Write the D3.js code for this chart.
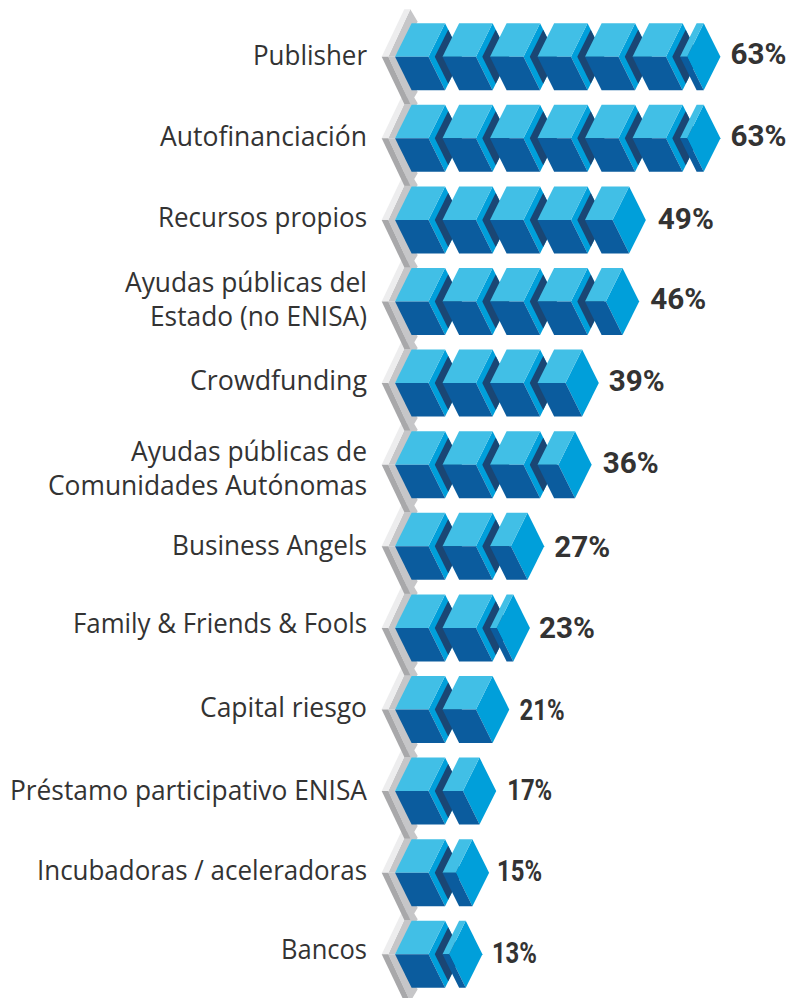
<!DOCTYPE html>
<html><head><meta charset="utf-8">
<script src="https://cdn.jsdelivr.net/npm/d3@7/dist/d3.min.js"></script>
<style>html,body{margin:0;padding:0;background:#fff}svg{display:block}</style>
</head><body><div id="chart"></div>
<script>
const categories = [
  ["Publisher"],
  ["Autofinanciación"],
  ["Recursos propios"],
  ["Ayudas públicas del","Estado (no ENISA)"],
  ["Crowdfunding"],
  ["Ayudas públicas de","Comunidades Autónomas"],
  ["Business Angels"],
  ["Family & Friends & Fools"],
  ["Capital riesgo"],
  ["Préstamo participativo ENISA"],
  ["Incubadoras / aceleradoras"],
  ["Bancos"]
];
const values = [63,63,49,46,39,36,27,23,21,17,15,13];
// Drawn length of each bar (front edge, 10 units = one block)
const drawnLengths = [61.5,61.5,45.8,44.4,35.9,34.4,24.4,21.4,17.1,14.3,12.8,11.4];

const W=792,H=998;
const x=d3.scaleLinear().domain([0,10]).range([395,442.5]);
const y=d3.scaleLinear().domain([0,11]).range([56.7,954.3]);
const blockUnits=7.05;          // width of a full front face
const hw=16.6, hh=33.5, side=33.3;
const C={light:"#41bfe6",side:"#009fda",dark:"#0b5c9e",navy:"#1a4674",g1:"#ededee",g2:"#c6c6c8",g3:"#a8a8aa"};
// small layout nudges of the text, row by row
const labelShift=[0,-1,-1,-1,-1.5,5,0,-3,-1,1,-1,-4];
const labelWidths=[[114],[207],[209],[242,217],[177],[236,319],[195],[294],[167],[357],[330],[86]];
const pctShift=[-2.5,-2.5,-1.3,-2.7,-2,-1.7,0.7,0,0,-1.5,-1.6,-1.8];
const pctGap=[10,10,12,11,10,11,10,9,10,11,8,9.5];
const glyphW=ch=>ch==="1"?6.5:ch==="%"?21:17.5;

const svg=d3.select("#chart").append("svg").attr("width",W).attr("height",H).attr("viewBox",`0 0 ${W} ${H}`);
const poly=(g,pts,fill)=>g.append("polygon").attr("points",pts.map(p=>p.join(",")).join(" ")).attr("fill",fill);

// grey rails: lower rows first so each row overlaps the one beneath
const rails=svg.append("g");
d3.range(values.length).reverse().forEach(i=>{
  const c=y(i),g=rails.append("g");
  const a=x(0)-13.3,b=x(0)-6.7,d=x(0);
  poly(g,[[b,c],[b+22,c-47.4],[b+29.4,c-35],[d+6,c-10],[d,c]],C.g2);
  poly(g,[[a,c],[a+22.6,c-47.4],[b+22,c-47.4],[b,c]],C.g1);
  poly(g,[[b,c],[d,c],[b+29.4,c+35],[b+22,c+47.4]],C.g2);
  poly(g,[[a,c],[b,c],[b+22,c+47.4],[a+22.6,c+47.4]],C.g3);
});

const bars=svg.append("g");
drawnLengths.forEach((len,i)=>{
  const c=y(i),g=bars.append("g");
  const n=Math.floor(len/10);
  d3.range(n+1).forEach(k=>{
    const L=x(k*10);
    const F=k<n?x(k*10+blockUnits):Math.min(x(k*10+blockUnits),x(len));
    poly(g,[[F,c],[F+hw,c-hh],[F+side,c],[F+hw,c+hh]],C.side);
    if(k<n) poly(g,[[F+6.3,c],[F+19.7,c-27],[F+side,c],[F+19.7,c+27]],C.navy);
    poly(g,[[L,c],[L+hw,c-hh],[F+hw,c-hh],[F,c]],C.light);
    poly(g,[[L,c],[L+hw,c+hh],[F+hw,c+hh],[F,c]],C.dark);
  });
});

const labels=svg.append("g").attr("font-family","'Open Sans',sans-serif").attr("font-size",26.4).attr("fill","#333");
categories.forEach((lines,i)=>{
  const c=y(i)+labelShift[i];
  lines.forEach((s,j)=>labels.append("text")
    .attr("x",367-labelWidths[i][j])
    .attr("y",c+8.3+(lines.length===2?(j===0?-16.7:17):0))
    .attr("textLength",labelWidths[i][j]).attr("lengthAdjust","spacingAndGlyphs").text(s));
});

const pct=svg.append("g").attr("font-family","Roboto,sans-serif").attr("font-weight",700).attr("font-size",28.8).attr("fill","#333");
values.forEach((v,i)=>{
  const tip=x(drawnLengths[i])+side, s=v+"%";
  pct.append("text").attr("x",tip+pctGap[i]).attr("y",y(i)+10.25+pctShift[i])
    .attr("textLength",d3.sum(Array.from(s),glyphW)).attr("lengthAdjust","spacingAndGlyphs").text(s);
});
</script></body></html>
